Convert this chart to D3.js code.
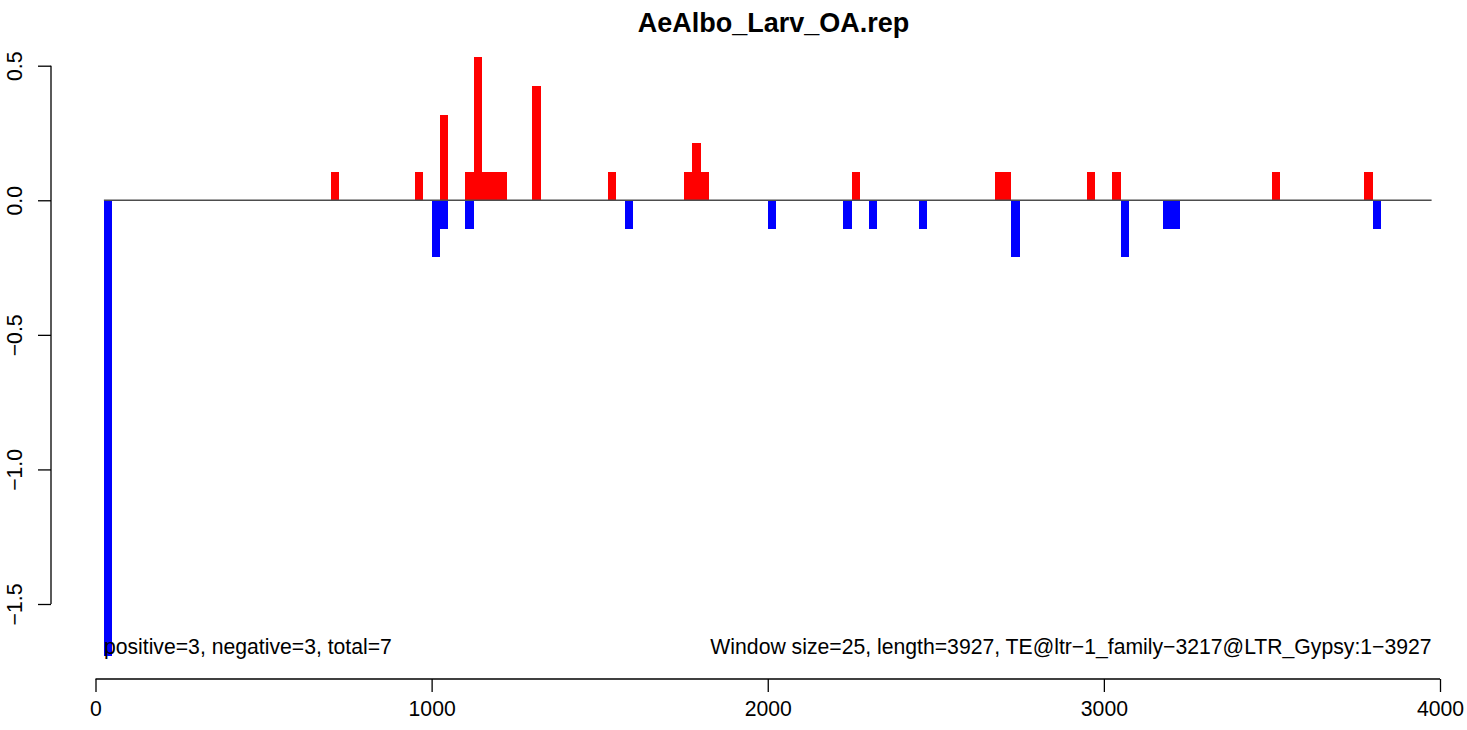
<!DOCTYPE html>
<html>
<head>
<meta charset="utf-8">
<script src="https://cdn.jsdelivr.net/npm/d3@7"></script>
<style>
  html, body { margin: 0; padding: 0; background: #fff; }
  svg { display: block; font-family: "Liberation Sans", Arial, sans-serif; }
</style>
</head>
<body>
<svg id="chart" width="1467" height="730"></svg>
<script>
// ---- data ----
const chartTitle = "AeAlbo_Larv_OA.rep";
const windowSize = 25;
const posStarts = [700, 950, 1025, 1100, 1125, 1150, 1175, 1200, 1300, 1525, 1750, 1775, 1800, 2250, 2675, 2700, 2950, 3025, 3500, 3775];
const posValues = [0.106, 0.106, 0.318, 0.106, 0.531, 0.106, 0.106, 0.106, 0.425, 0.106, 0.106, 0.212, 0.106, 0.106, 0.106, 0.106, 0.106, 0.106, 0.106, 0.106];
const negStarts = [25, 1000, 1025, 1100, 1575, 2000, 2225, 2300, 2450, 2725, 3050, 3175, 3200, 3800];
const negValues = [-1.694, -0.212, -0.106, -0.106, -0.106, -0.106, -0.106, -0.106, -0.106, -0.212, -0.212, -0.106, -0.106, -0.106];
const baselineRange = [25, 3975];
const xTicks = [0, 1000, 2000, 3000, 4000];
const yTicks = [0.5, 0.0, -0.5, -1.0, -1.5];
const leftNote = "positive=3, negative=3, total=7";
const rightNote = "Window size=25, length=3927, TE@ltr\u22121_family\u22123217@LTR_Gypsy:1\u22123927";

// ---- layout ----
const svg = d3.select("#chart");
const x = d3.scaleLinear().domain([0, 4000]).range([95.5, 1440]);
const y = d3.scaleLinear().domain([-1.5, 0.5]).range([604, 65.7]);
const fontSize = 21.2;

const posData = posStarts.map((s, i) => ({ s, v: posValues[i] }));
const negData = negStarts.map((s, i) => ({ s, v: negValues[i] }));

// bars
svg.append("g").selectAll("rect.pos").data(posData).join("rect")
  .attr("x", d => x(d.s))
  .attr("width", d => x(d.s + windowSize) - x(d.s))
  .attr("y", d => y(d.v))
  .attr("height", d => y(0) - y(d.v))
  .attr("fill", "#ff0000")
  .attr("shape-rendering", "crispEdges");

svg.append("g").selectAll("rect.neg").data(negData).join("rect")
  .attr("x", d => x(d.s))
  .attr("width", d => x(d.s + windowSize) - x(d.s))
  .attr("y", y(0))
  .attr("height", d => y(d.v) - y(0))
  .attr("fill", "#0000ff")
  .attr("shape-rendering", "crispEdges");

// baseline
svg.append("line")
  .attr("x1", x(baselineRange[0])).attr("x2", x(baselineRange[1]))
  .attr("y1", y(0)).attr("y2", y(0))
  .attr("stroke", "#4d4d4d").attr("stroke-width", 1.4);

// x axis
const xAxis = d3.axisBottom(x).tickValues(xTicks).tickFormat(d3.format("d"))
  .tickSizeOuter(0).tickSizeInner(13).tickPadding(9);
const gx = svg.append("g").attr("transform", "translate(0,679)").call(xAxis);
gx.select(".domain").attr("d", `M${x(0)},0H${x(4000)}`).attr("stroke", "#000").attr("stroke-width", 1.3);
gx.selectAll(".tick line").attr("stroke", "#000").attr("stroke-width", 1.3);
gx.selectAll(".tick text").attr("font-size", fontSize).attr("fill", "#000")
  .attr("font-family", "Liberation Sans, Arial, sans-serif");

// y axis
const yAxis = d3.axisLeft(y).tickValues(yTicks).tickFormat(d3.format(".1f"))
  .tickSizeOuter(0).tickSizeInner(13);
const gy = svg.append("g").attr("transform", "translate(51,0)").call(yAxis);
gy.select(".domain").attr("d", `M0,${y(0.5)}V${y(-1.5)}`).attr("stroke", "#000").attr("stroke-width", 1.3);
gy.selectAll(".tick line").attr("stroke", "#000").attr("stroke-width", 1.3);
gy.selectAll(".tick text")
  .attr("font-size", fontSize).attr("fill", "#000")
  .attr("font-family", "Liberation Sans, Arial, sans-serif")
  .attr("x", null).attr("dy", null)
  .attr("text-anchor", "middle")
  .attr("transform", "translate(-29,0) rotate(-90)")
  .attr("y", 0)
  .text(d => d3.format(".1f")(d).replace("-", "\u2212"));

// title
svg.append("text")
  .attr("x", 773.5).attr("y", 32)
  .attr("text-anchor", "middle")
  .attr("font-weight", "bold")
  .attr("font-size", 27)
  .text(chartTitle);

// notes
svg.append("text")
  .attr("x", x(baselineRange[0])).attr("y", 654)
  .attr("font-size", fontSize)
  .text(leftNote);
svg.append("text")
  .attr("x", x(baselineRange[1])).attr("y", 654)
  .attr("text-anchor", "end")
  .attr("font-size", fontSize)
  .text(rightNote);
</script>
</body>
</html>
